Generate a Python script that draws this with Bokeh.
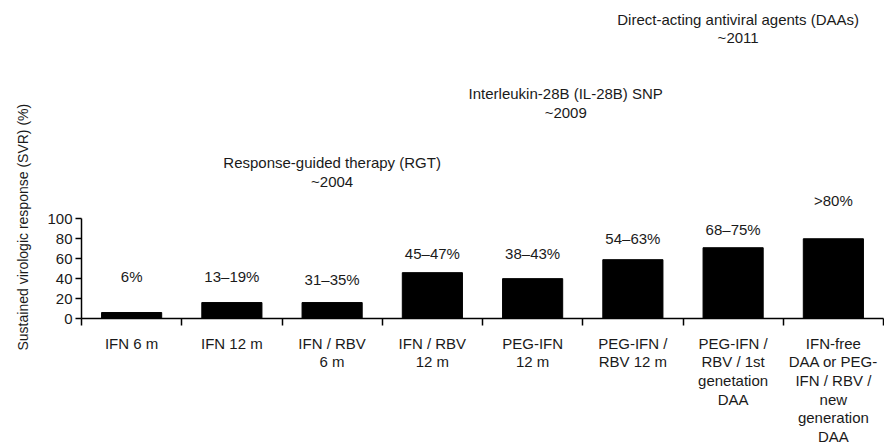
from bokeh.plotting import figure
from bokeh.models import Range1d, FixedTicker, Title
from bokeh.core.properties import value
from bokeh.embed import file_html
from bokeh.resources import INLINE

# ---- data ----
categories = [
    "IFN 6 m",
    "IFN 12 m",
    "IFN / RBV\n6 m",
    "IFN / RBV\n12 m",
    "PEG-IFN\n12 m",
    "PEG-IFN /\nRBV 12 m",
    "PEG-IFN /\nRBV / 1st\ngenetation\nDAA",
    "IFN-free\nDAA or PEG-\nIFN / RBV /\nnew\ngeneration\nDAA",
]
svr_values = [6, 16, 16, 46, 40, 59, 71, 80]
svr_labels = ["6%", "13\u201319%", "31\u201335%", "45\u201347%", "38\u201343%",
              "54\u201363%", "68\u201375%", ">80%"]
y_ticks = [0, 20, 40, 60, 80, 100]
y_title = "Sustained virologic response (SVR) (%)"
milestones = [
    "Response-guided therapy (RGT)\n~2004",
    "Interleukin-28B (IL-28B) SNP\n~2009",
    "Direct-acting antiviral agents (DAAs)\n~2011",
]

# ---- layout (positions) ----
label_y = [42, 42, 39, 65, 65, 80, 89, 118]
milestone_x = [2.5, 4.83, 6.55]
milestone_y = [147, 216, 291]

FONT = "Liberation Sans"
TXT = "#1a1a1a"

n = len(categories)
centers = [i + 0.5 for i in range(n)]

p = figure(width=884, height=448, x_range=Range1d(0, n), y_range=Range1d(0, 319),
           output_backend="svg", toolbar_location=None,
           min_border_left=81, min_border_right=1, min_border_top=0,
           min_border_bottom=125)
p.outline_line_color = None
p.xgrid.grid_line_color = None
p.ygrid.grid_line_color = None
p.background_fill_color = "white"
p.border_fill_color = "white"

p.vbar(x=centers, top=svr_values, width=0.6, fill_color="black", line_color="black")

p.text(x=centers, y=label_y, text=svr_labels, text_align="center",
       text_baseline="middle", text_font_size="15px", text_font=value(FONT),
       text_color=TXT)

p.text(x=milestone_x, y=milestone_y, text=milestones, text_align="center",
       text_baseline="middle", text_font_size="15px", text_font=value(FONT),
       text_color=TXT, text_line_height=1.1)

# y axis (ticks)
ya = p.yaxis[0]
ya.ticker = FixedTicker(ticks=y_ticks)
ya.bounds = (0, 100)
ya.major_tick_out = 6
ya.major_tick_in = 0
ya.minor_tick_line_color = None
ya.axis_line_color = "black"
ya.axis_line_width = 1.5
ya.major_tick_line_width = 1.5
ya.major_label_text_font = FONT
ya.major_label_text_font_size = "15px"
ya.major_label_text_color = TXT
ya.major_label_standoff = 3

# y axis title as a side title so it can be placed lower than the frame centre
p.add_layout(Title(text=y_title, align="left", offset=-32, standoff=24,
                   vertical_align="top",
                   text_font=FONT, text_font_size="14px", text_font_style="normal",
                   text_color=TXT), "left")

# x axis
xa = p.xaxis[0]
xa.ticker = FixedTicker(ticks=centers, minor_ticks=list(range(n + 1)))
xa.major_label_overrides = {c: lab for c, lab in zip(centers, categories)}
xa.major_tick_line_color = None
xa.major_tick_out = 0
xa.major_tick_in = 0
xa.minor_tick_out = 7
xa.minor_tick_in = 0
xa.minor_tick_line_width = 1.5
xa.axis_line_width = 1.5
xa.axis_line_color = "black"
xa.major_label_text_font = FONT
xa.major_label_text_font_size = "15px"
xa.major_label_text_color = TXT
xa.major_label_text_line_height = 1.1
xa.major_label_standoff = 9

open("out.html", "w").write(file_html(p, INLINE))
